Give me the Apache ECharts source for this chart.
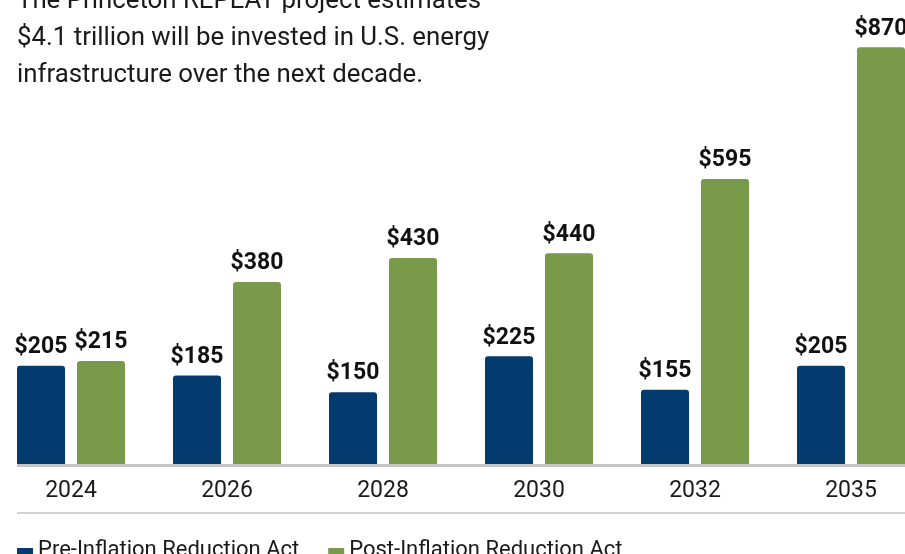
<!DOCTYPE html>
<html>
<head>
<meta charset="utf-8">
<script src="https://cdn.jsdelivr.net/npm/echarts@6/dist/echarts.min.js"></script>
<style>
html,body{margin:0;padding:0;background:#fff;}
#c{width:905px;height:554px;}
</style>
</head>
<body>
<div id="c"></div>
<script>
const titleLines = [
  'The Princeton REPEAT project estimates',
  '$4.1 trillion will be invested in U.S. energy',
  'infrastructure over the next decade.'
];
const years = ['2024', '2026', '2028', '2030', '2032', '2035'];
const seriesNames = ['Pre-Inflation Reduction Act', 'Post-Inflation Reduction Act'];
const preIRA = [205, 185, 150, 225, 155, 205];
const postIRA = [215, 380, 430, 440, 595, 870];

const NAVY = '#033b6e';
const GREEN = '#789a4a';
const FONT = 'Roboto, "Noto Sans", sans-serif';

const chart = echarts.init(document.getElementById('c'), null, {renderer: 'canvas'});

const labelCfg = {
  show: true,
  position: 'top',
  distance: 7,
  formatter: p => '$' + p.value,
  fontFamily: FONT,
  fontWeight: 'bold',
  fontSize: 23,
  color: '#111'
};

chart.setOption({
  animation: false,
  backgroundColor: '#fff',
  textStyle: {fontFamily: FONT},
  title: {
    text: titleLines.join('\n'),
    left: 17,
    top: -17,
    padding: 0,
    textStyle: {
      fontFamily: FONT,
      fontWeight: 'normal',
      fontSize: 25.8,
      lineHeight: 37,
      color: '#1a1a1a'
    }
  },
  legend: {
    data: seriesNames,
    left: 17,
    top: 536,
    padding: 0,
    icon: 'path://M0 0M0 12L16 12L16 28L0 28Z',
    itemWidth: 16,
    itemHeight: 28,
    itemGap: 29,
    textStyle: {
      fontFamily: FONT,
      fontSize: 22,
      color: '#1a1a1a'
    }
  },
  grid: {
    left: -7,
    right: -24,
    top: 33,
    bottom: 90,
    containLabel: false,
    outerBoundsMode: 'none'
  },
  xAxis: {
    type: 'category',
    data: years,
    axisLine: {show: false},
    axisTick: {show: false},
    axisLabel: {
      margin: 16,
      fontFamily: FONT,
      fontSize: 23,
      color: '#1a1a1a'
    }
  },
  yAxis: {
    type: 'value',
    min: 0,
    max: 900,
    show: false,
    splitLine: {show: false}
  },
  graphic: [
    {
      type: 'rect',
      z: 0,
      shape: {x: 17, y: 464, width: 888, height: 3},
      style: {fill: '#c6c6c6'}
    },
    {
      type: 'rect',
      z: 0,
      shape: {x: 17, y: 512, width: 888, height: 2},
      style: {fill: '#d4d4d4'}
    }
  ],
  series: [
    {
      name: seriesNames[0],
      type: 'bar',
      data: preIRA,
      barWidth: 48,
      barGap: '25%',
      itemStyle: {color: NAVY, borderRadius: [3, 3, 0, 0]},
      label: labelCfg
    },
    {
      name: seriesNames[1],
      type: 'bar',
      data: postIRA,
      barWidth: 48,
      barGap: '25%',
      itemStyle: {color: GREEN, borderRadius: [3, 3, 0, 0]},
      label: labelCfg
    }
  ]
});
</script>
</body>
</html>
